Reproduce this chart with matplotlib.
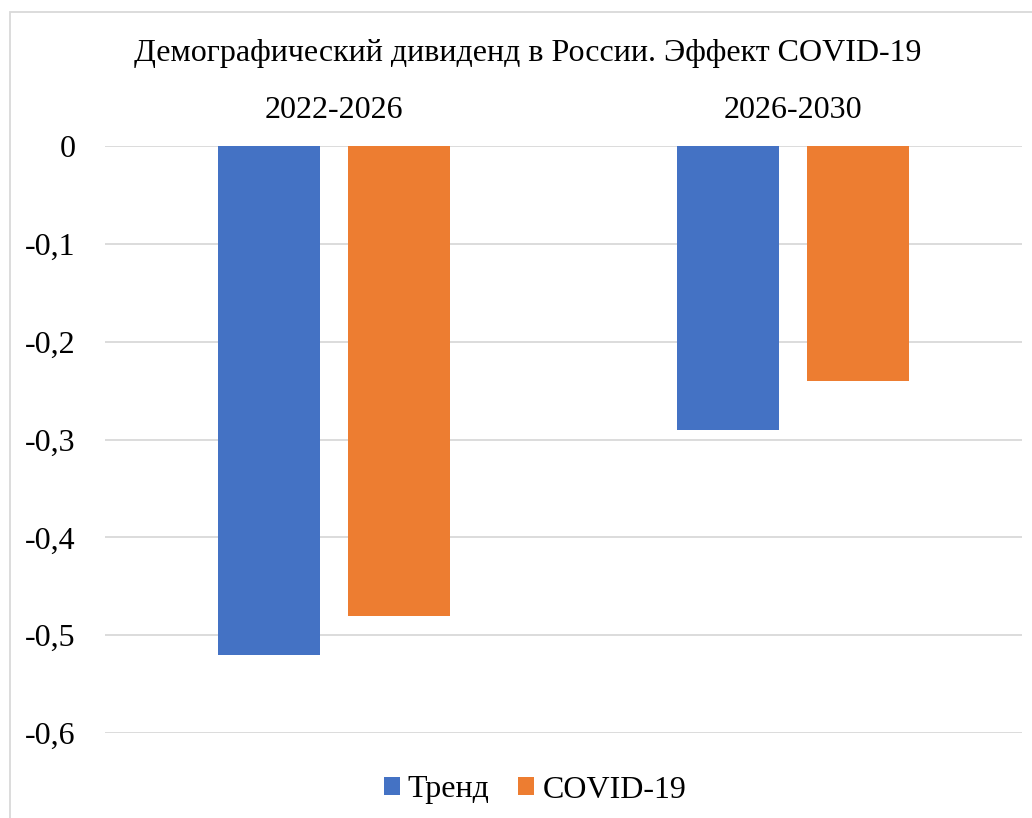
import matplotlib.pyplot as plt
import matplotlib.patches as mpatches
from matplotlib.ticker import FuncFormatter

plt.rcParams['font.family'] = ['Liberation Serif', 'DejaVu Serif']

periods = ['2022-2026', '2026-2030']
series_names = ['Тренд', 'COVID-19']
trend = [-0.52, -0.29]
covid = [-0.48, -0.24]
colors = ['#4472C4', '#ED7D31']
yticks = [0, -0.1, -0.2, -0.3, -0.4, -0.5, -0.6]

W, H = 1032, 818
fig = plt.figure(figsize=(W / 100, H / 100), dpi=100)
ax = fig.add_axes([105 / W, 1 - 733 / H, (1022 - 105) / W, (733 - 146) / H])

x = range(len(periods))
width = 0.2225
off = 0.142
ax.bar([i - off for i in x], trend, width, color=colors[0], label=series_names[0], zorder=3)
ax.bar([i + off for i in x], covid, width, color=colors[1], label=series_names[1], zorder=3)

ax.set_xlim(-0.5, 1.5)
ax.set_ylim(-0.6, 0)
ax.set_yticks(yticks)
ax.yaxis.set_major_formatter(FuncFormatter(
    lambda v, p: '0' if abs(v) < 1e-9 else ('%.1f' % v).replace('.', ',')))
ax.set_xticks(list(x))
ax.set_xticklabels(periods)
ax.xaxis.tick_top()
ax.tick_params(axis='x', length=0, pad=15, labelsize=23)
ax.tick_params(axis='y', length=0, pad=21, labelsize=23)
ax.grid(axis='y', color='#D9D9D9', linewidth=1.3, zorder=0)
for s in ax.spines.values():
    s.set_visible(False)

fig.text(528 / W, 1 - 54 / H, 'Демографический дивиденд в России. Эффект COVID-19',
         ha='center', va='center', fontsize=23)

ax.legend(loc='center', bbox_to_anchor=(535 / W, 1 - 790 / H), bbox_transform=fig.transFigure,
          ncol=2, frameon=False, fontsize=23, handlelength=0.5, handleheight=0.5,
          handletextpad=0.25, columnspacing=0.9)

fig.patches.append(mpatches.Rectangle((10 / W, -0.1), 1.2, 1.1 - 12 / H, transform=fig.transFigure,
                                      fill=False, edgecolor='#D9D9D9', linewidth=1.3))

fig.savefig('out.png', dpi=100)
